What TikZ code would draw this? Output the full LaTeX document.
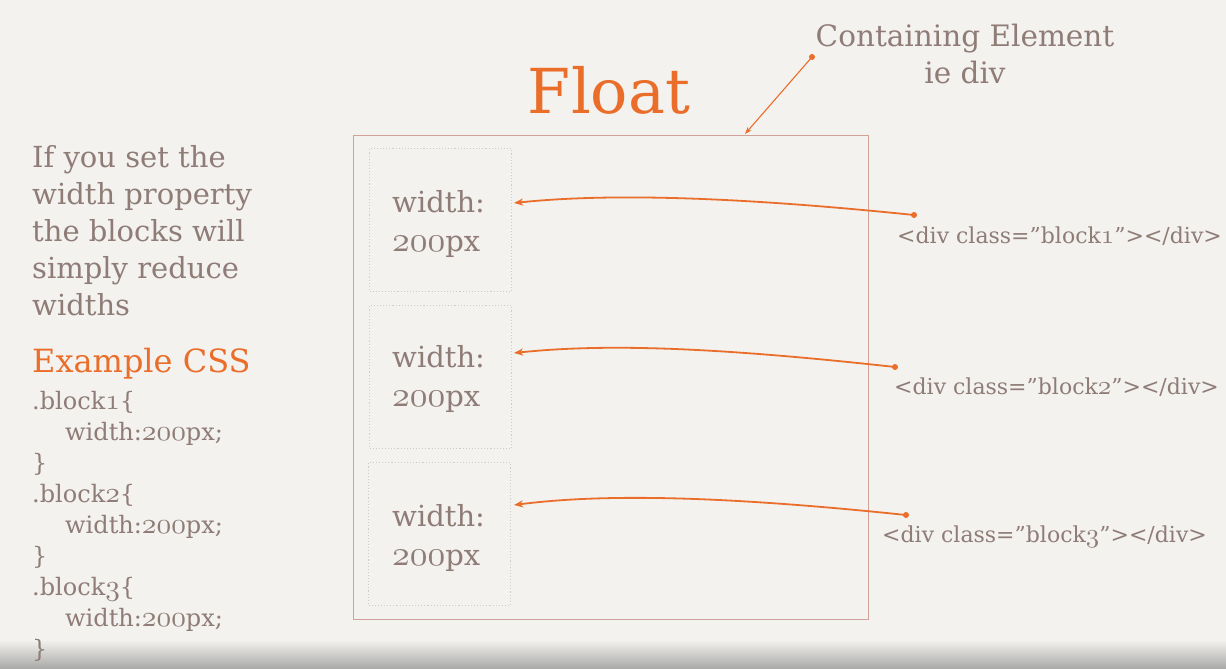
\documentclass[tikz,border=0pt]{standalone}
\usepackage{fontspec}
\setmainfont{DejaVu Serif}
\usetikzlibrary{arrows.meta}

\definecolor{bg}{RGB}{243,242,239}
\definecolor{ink}{RGB}{143,124,119}
\definecolor{accent}{RGB}{234,110,42}
\definecolor{frame}{RGB}{208,162,152}
\definecolor{dotline}{RGB}{204,204,200}
\definecolor{shadow}{RGB}{168,168,166}

% old-style figures taken from the math italic font, freely scalable
\DeclareFontFamily{OML}{osnum}{\skewchar\font'177}
\DeclareFontShape{OML}{osnum}{m}{it}{<-> cmmi10}{}
\makeatletter
\newcommand\osf[1]{{\fontencoding{OML}\fontfamily{osnum}\fontseries{m}\fontshape{it}%
  \fontsize{\the\dimexpr 1.22\dimexpr\f@size pt\relax\relax}{0pt}\selectfont #1}}
\makeatother
\newcommand\fs[1]{\fontsize{#1}{#1}\selectfont}

\tikzset{
  txt/.style={text=ink, inner sep=0pt, anchor=base west},
  blockbox/.style={draw=dotline, line width=1.1pt, dotted, minimum width=142pt,
                   minimum height=143pt, anchor=north west, inner sep=0pt},
  pin/.style={circle, fill=accent, inner sep=0pt, minimum size=6pt},
  link/.style={draw=accent, line width=1.8pt,
               -{Stealth[length=9pt, width=7pt, inset=2.5pt]}},
  thinlink/.style={draw=accent, line width=1.1pt,
               -{Stealth[length=7pt, width=5pt, inset=2pt]}},
}

\begin{document}
\begin{tikzpicture}[x=1pt, y=-1pt]
  \useasboundingbox (0,0) rectangle (1226,669);
  \fill[bg] (0,0) rectangle (1226,669);
  \shade[top color=bg, bottom color=shadow] (0,640) rectangle (1226,669);

  % title and caption
  \node[text=accent, inner sep=0pt, anchor=base, font=\fs{62}] (title) at (609,113) {Float};
  \node[txt, anchor=base, font=\fs{29.5}] (cap1) at (965,47) {Containing Element};
  \node[txt, anchor=base, font=\fs{29.5}] (cap2) at (965,84) {ie div};

  % left explanation
  \foreach \line [count=\i] in {If you set the, width property, the blocks will, simply reduce, widths}
    \node[txt, font=\fs{29}] (intro\i) at (32,{167+37*(\i-1)}) {\line};
  \node[txt, text=accent, font=\fs{32}] (example) at (32,372) {Example CSS};

  % css listing
  \foreach \n [count=\k] in {1,2,3} {
    \node[txt, font=\fs{24}] (sel\n) at (32,{409+93*(\k-1)}) {.block\osf{\n}\{};
    \node[txt, font=\fs{24}] (rule\n) at (65,{440+93*(\k-1)}) {width:\osf{200}px;};
    \node[txt, font=\fs{24}] (close\n) at (32,{471+93*(\k-1)}) {\}};
  }

  % containing element
  \draw[frame, line width=1pt] (353,135) rectangle (868,619);
  \coordinate (frametop) at (745,134);

  % floated blocks
  \node[blockbox] (b1) at (369,148) {};
  \node[blockbox] (b2) at (369,305) {};
  \node[blockbox] (b3) at (368,462) {};
  \foreach \b/\y in {1/212, 2/367, 3/526} {
    \node[txt, font=\fs{29}] (w\b) at (392,\y) {width:};
    \node[txt, font=\fs{29}] (p\b) at (392,{\y+39}) {\osf{200}px};
  }

  % markup labels
  \node[txt, font=\fs{22}] (m1) at (897,243) {<div class=”block\osf{1}”></div>};
  \node[txt, font=\fs{22}] (m2) at (894,394) {<div class=”block\osf{2}”></div>};
  \node[txt, font=\fs{22}] (m3) at (882,542) {<div class=”block\osf{3}”></div>};

  % anchor dots and arrow targets
  \node[pin] (d0) at (812,57) {};
  \node[pin] (d1) at (914,215) {};
  \node[pin] (d2) at (895,367) {};
  \node[pin] (d3) at (906,515) {};
  \coordinate (t1) at (514,203);
  \coordinate (t2) at (514,353);
  \coordinate (t3) at (514,505);

  % connectors
  \draw[thinlink] (d0.center) -- (frametop);
  \draw[link] (d1.center) .. controls (720,195) and (600,194) .. (t1);
  \draw[link] (d2.center) .. controls (705,346) and (600,344) .. (t2);
  \draw[link] (d3.center) .. controls (715,495) and (600,494) .. (t3);
\end{tikzpicture}
\end{document}
